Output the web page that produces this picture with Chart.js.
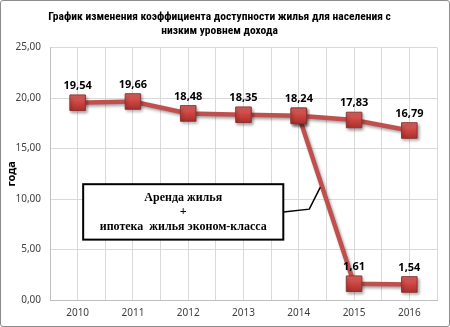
<!DOCTYPE html>
<html>
<head>
<meta charset="utf-8">
<script src="https://cdn.jsdelivr.net/npm/chart.js@4.4.1/dist/chart.umd.min.js"></script>
<style>
  body { margin: 0; background: #fff; }
  #wrap { width: 448px; height: 325px; border: 1px solid #8c8c8c; border-radius: 3px; }
</style>
</head>
<body>
<div id="wrap"><canvas id="chart" width="448" height="325"></canvas></div>
<script>

var years = [2010, 2011, 2012, 2013, 2014, 2015, 2016];
var mainValues = [19.54, 19.66, 18.48, 18.35, 18.24, 17.83, 16.79];
var altYears = [2014, 2015, 2016];
var altValues = [18.24, 1.61, 1.54];
var titleLines = ["График изменения коэффициента доступности жилья для населения с", "низким уровнем дохода"];
var noteLines = ["Аренда жилья", "+", "ипотека  жилья эконом-класса"];

// note box, in data units
var note = {x1: 2010.1, x2: 2013.72, y1: 11.47, y2: 5.98, tail: [[2014.19, 9.0], [2014.39, 11.18]]};

var RED = "#c0504d";
var NARROW = "'Liberation Sans Narrow', 'Roboto Condensed', Roboto";

function pts(xs, ys){
    return xs.map(function(x, i){ return {x: x, y: ys[i]}; });
}

function fmt(v){
    return v.toFixed(2).replace(".", ",");
}

var labelsPlugin = {
    id: "labels",
    afterDatasetsDraw: function(chart){
        var ctx = chart.ctx;
        ctx.save();
        ctx.font = "bold 11px 'Noto Sans'";
        ctx.fillStyle = "#000";
        ctx.textAlign = "center";
        ctx.textBaseline = "middle";
        chart.data.datasets.forEach(function(ds, di){
            chart.getDatasetMeta(di).data.forEach(function(p, i){
                if (di == 1 && i == 0) return;
                ctx.fillText(fmt(ds.data[i].y), p.x, p.y - 17);
            });
        });
        ctx.restore();
    }
};

var notePlugin = {
    id: "note",
    afterDatasetsDraw: function(chart){
        var ctx = chart.ctx;
        var sx = chart.scales.x, sy = chart.scales.y;
        var l = sx.getPixelForValue(note.x1), r = sx.getPixelForValue(note.x2);
        var t = sy.getPixelForValue(note.y1), b = sy.getPixelForValue(note.y2);
        ctx.save();
        ctx.fillStyle = "#fff";
        ctx.fillRect(l, t, r - l, b - t);
        ctx.strokeStyle = "#000";
        ctx.lineWidth = 2;
        ctx.strokeRect(l, t, r - l, b - t);
        ctx.lineWidth = 1.5;
        ctx.beginPath();
        ctx.moveTo(r, (t + b) / 2);
        note.tail.forEach(function(q){
            ctx.lineTo(sx.getPixelForValue(q[0]), sy.getPixelForValue(q[1]));
        });
        ctx.stroke();
        ctx.fillStyle = "#000";
        ctx.font = "bold 12px 'Liberation Serif'";
        ctx.textAlign = "center";
        ctx.textBaseline = "middle";
        var cx = (l + r) / 2, mid = (t + b) / 2;
        noteLines.forEach(function(s, i){
            ctx.fillText(s, cx, mid + (i - 1) * 14.5);
        });
        ctx.restore();
    }
};

var shadowPlugin = {
    id: "shadow",
    beforeDatasetDraw: function(chart){
        var ctx = chart.ctx;
        ctx.save();
        ctx.shadowColor = "rgba(0,0,0,0.35)";
        ctx.shadowBlur = 3;
        ctx.shadowOffsetX = 1.5;
        ctx.shadowOffsetY = 2;
    },
    afterDatasetDraw: function(chart){
        chart.ctx.restore();
    }
};

function markerFill(c){
    var p = c.element;
    if (!p || p.y == null || isNaN(p.y)) return "#cc4441";
    var g = c.chart.ctx.createLinearGradient(0, p.y - 8, 0, p.y + 8);
    g.addColorStop(0, "#e06a66");
    g.addColorStop(0.5, "#cc4441");
    g.addColorStop(1, "#a8302d");
    return g;
}

function seriesStyle(data){
    return {
        data: data,
        borderColor: RED,
        borderWidth: 4.5,
        pointStyle: "rect",
        pointRadius: 11,
        pointBackgroundColor: markerFill,
        pointBorderColor: "#8e3432",
        pointBorderWidth: 1,
        tension: 0
    };
}

function draw_chart(){
    new Chart("chart", {
        type: "line",
        data: {
            datasets: [seriesStyle(pts(years, mainValues)), seriesStyle(pts(altYears, altValues))]
        },
        options: {
            animation: false,
            responsive: false,
            layout: {padding: {left: 0, right: 11, top: 0, bottom: 6}},
            plugins: {
                legend: {display: false},
                tooltip: {enabled: false},
                title: {
                    display: true,
                    text: titleLines,
                    color: "#000",
                    font: {family: NARROW, size: 11.5, weight: "bold"},
                    lineHeight: 1.4,
                    padding: {top: 9, bottom: 10}
                }
            },
            scales: {
                x: {
                    type: "linear",
                    min: 2009.5,
                    max: 2016.5,
                    afterFit: function(s){ s.height = 20; },
                    grid: {color: "#d9d9d9", drawTicks: false},
                    border: {color: "#bfbfbf"},
                    ticks: {
                        stepSize: 0.5,
                        autoSkip: false,
                        maxRotation: 0,
                        padding: 7,
                        color: "#404040",
                        font: {family: "'Noto Sans'", size: 10},
                        callback: function(v){ return v % 1 == 0 ? String(v) : ""; }
                    }
                },
                y: {
                    min: 0,
                    max: 25,
                    afterFit: function(s){ s.width = 49; },
                    grid: {color: "#d9d9d9", drawTicks: false},
                    border: {color: "#bfbfbf"},
                    title: {
                        display: true,
                        text: "года",
                        color: "#000",
                        font: {family: "'Noto Sans'", size: 11, weight: "bold"},
                        padding: {top: 4, bottom: 0}
                    },
                    ticks: {
                        stepSize: 5,
                        padding: 9,
                        color: "#404040",
                        font: {family: "'Noto Sans'", size: 10},
                        callback: function(v){ return fmt(v); }
                    }
                }
            }
        },
        plugins: [shadowPlugin, labelsPlugin, notePlugin]
    });
}

draw_chart();
</script>
</body>
</html>
